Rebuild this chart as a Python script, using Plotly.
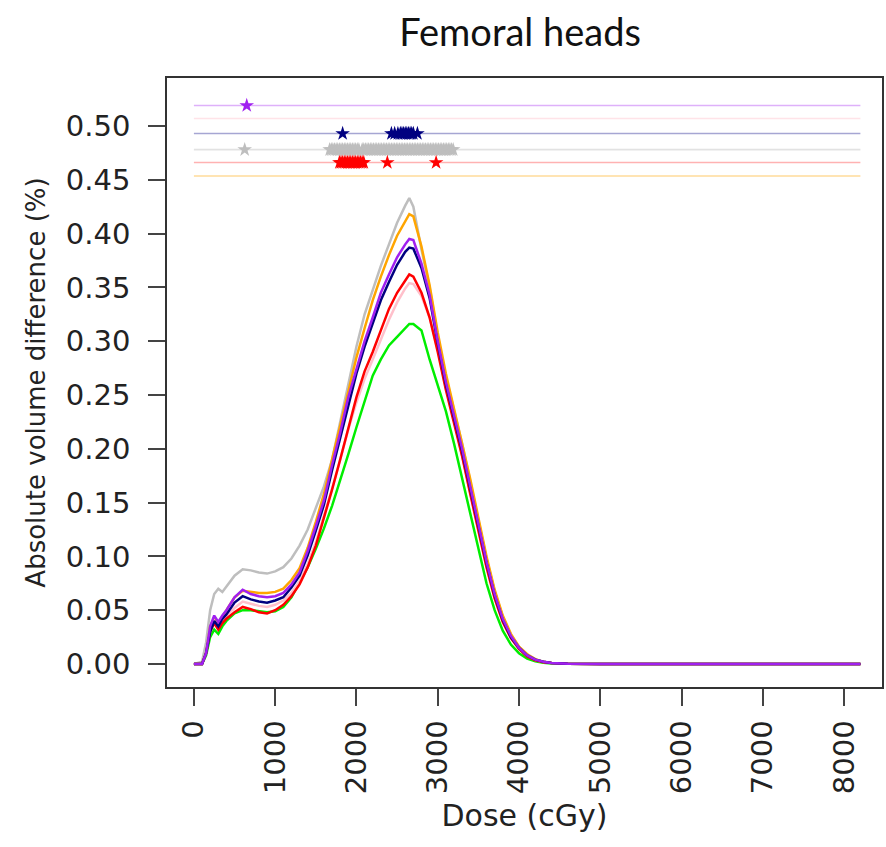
import plotly.graph_objects as go

dose = [0, 100, 150, 200, 250, 300, 350, 400, 500, 600, 700, 800, 900, 1000, 1100, 1200,
        1300, 1400, 1500, 1600, 1700, 1800, 1900, 2000, 2100, 2200, 2300, 2400, 2500,
        2600, 2650, 2700, 2800, 2900, 3000, 3100, 3200, 3300, 3400, 3500, 3600, 3700,
        3800, 3900, 4000, 4100, 4200, 4300, 4400, 4600, 5000, 8200]

gray = [0, 0.002, 0.02, 0.05, 0.065, 0.07, 0.067, 0.072, 0.082, 0.088, 0.087, 0.085, 0.084, 0.086, 0.09, 0.098,
        0.11, 0.125, 0.145, 0.165, 0.19, 0.225, 0.26, 0.295, 0.325, 0.348, 0.37, 0.39, 0.41,
        0.426, 0.433, 0.425, 0.385, 0.35, 0.305, 0.267, 0.236, 0.205, 0.17, 0.134, 0.098, 0.068,
        0.044, 0.027, 0.016, 0.009, 0.0045, 0.002, 0.001, 0.0003, 0, 0]

orange = [0, 0, 0.01, 0.035, 0.043, 0.037, 0.044, 0.05, 0.062, 0.068, 0.067, 0.066, 0.066, 0.067, 0.07, 0.078,
          0.089, 0.108, 0.132, 0.158, 0.19, 0.222, 0.256, 0.285, 0.312, 0.338, 0.36, 0.38, 0.398,
          0.412, 0.418, 0.416, 0.388, 0.352, 0.308, 0.27, 0.238, 0.207, 0.172, 0.136, 0.1, 0.069,
          0.045, 0.028, 0.016, 0.009, 0.0045, 0.002, 0.001, 0.0003, 0, 0]

green = [0, 0, 0.008, 0.025, 0.032, 0.028, 0.035, 0.04, 0.047, 0.05, 0.05, 0.049, 0.048, 0.049, 0.053, 0.062,
         0.076, 0.09, 0.107, 0.126, 0.147, 0.17, 0.195, 0.22, 0.245, 0.268, 0.283, 0.296, 0.304,
         0.312, 0.316, 0.316, 0.31, 0.283, 0.258, 0.235, 0.205, 0.172, 0.138, 0.105, 0.075, 0.05,
         0.031, 0.018, 0.01, 0.005, 0.0025, 0.0012, 0.0005, 0.0001, 0, 0]

pink = [0, 0, 0.01, 0.032, 0.04, 0.035, 0.04, 0.045, 0.052, 0.058, 0.056, 0.054, 0.053, 0.055, 0.059, 0.066,
        0.077, 0.093, 0.113, 0.137, 0.163, 0.19, 0.218, 0.243, 0.265, 0.283, 0.302, 0.32, 0.336,
        0.349, 0.354, 0.353, 0.342, 0.322, 0.292, 0.257, 0.227, 0.195, 0.16, 0.126, 0.092, 0.062,
        0.04, 0.025, 0.014, 0.0075, 0.0037, 0.0018, 0.0008, 0.0002, 0, 0]

red = [0, 0, 0.01, 0.03, 0.038, 0.032, 0.038, 0.042, 0.048, 0.053, 0.051, 0.048, 0.047, 0.05, 0.055, 0.063,
       0.074, 0.09, 0.11, 0.135, 0.162, 0.19, 0.22, 0.248, 0.272, 0.29, 0.31, 0.33, 0.345,
       0.357, 0.362, 0.36, 0.345, 0.322, 0.29, 0.255, 0.225, 0.193, 0.158, 0.124, 0.09, 0.061,
       0.039, 0.024, 0.014, 0.007, 0.0035, 0.0017, 0.0008, 0.0002, 0, 0]

navy = [0, 0, 0.01, 0.03, 0.04, 0.035, 0.042, 0.046, 0.057, 0.063, 0.06, 0.058, 0.057, 0.059, 0.062, 0.071,
        0.082, 0.101, 0.124, 0.148, 0.18, 0.21, 0.242, 0.27, 0.295, 0.317, 0.338, 0.355, 0.371,
        0.383, 0.387, 0.386, 0.368, 0.34, 0.298, 0.26, 0.23, 0.198, 0.163, 0.128, 0.094, 0.064,
        0.041, 0.025, 0.015, 0.008, 0.004, 0.002, 0.001, 0.0003, 0, 0]

purple = [0, 0, 0.01, 0.035, 0.045, 0.039, 0.045, 0.05, 0.062, 0.069, 0.065, 0.063, 0.062, 0.063, 0.066, 0.074,
          0.085, 0.105, 0.128, 0.152, 0.185, 0.215, 0.248, 0.275, 0.3, 0.322, 0.345, 0.362, 0.378,
          0.39, 0.395, 0.394, 0.372, 0.343, 0.3, 0.262, 0.232, 0.2, 0.165, 0.13, 0.095, 0.065,
          0.042, 0.026, 0.015, 0.008, 0.004, 0.002, 0.001, 0.0003, 0, 0]

# significance reference lines (level on the y axis) and star doses
line_start, line_end = 0, 8200
purple_level, pink_level, navy_level = 0.519, 0.507, 0.493
gray_level, red_level, orange_level = 0.478, 0.466, 0.4535

purple_sig = [650]
pink_sig = []
navy_sig = [1830, 2430, 2470, 2510, 2540, 2560, 2580, 2600, 2620, 2640, 2660, 2680, 2700, 2750]
gray_sig = [625, 1670, 1690, 1710, 1730, 1750, 1770, 1790, 1810, 1830, 1850, 1870, 1890, 1910, 1930,
            1950, 1970, 1990, 2010, 2030, 2070, 2090, 2110, 2130, 2150, 2170, 2190, 2210, 2230,
            2250, 2270, 2290, 2310, 2330, 2350, 2370, 2390, 2410, 2430, 2450, 2470, 2490, 2510,
            2530, 2550, 2570, 2590, 2610, 2630, 2650, 2670, 2690, 2710, 2730, 2750, 2770, 2790,
            2810, 2830, 2850, 2870, 2890, 2910, 2930, 2950, 2970, 2990, 3010, 3030, 3050, 3070,
            3090, 3110, 3130, 3150, 3170, 3190]
red_sig = [1790, 1810, 1830, 1850, 1870, 1890, 1910, 1930, 1950, 1970, 1990, 2010, 2030, 2050,
           2070, 2090, 2380, 2980]
orange_sig = []

x_ticks = [0, 1000, 2000, 3000, 4000, 5000, 6000, 7000, 8000]
y_ticks = [0.00, 0.05, 0.10, 0.15, 0.20, 0.25, 0.30, 0.35, 0.40, 0.45, 0.50]

fig = go.Figure()

refs = [
    (purple_level, "rgba(160,32,240,0.35)", purple_sig, "#A020F0"),
    (pink_level, "rgba(255,192,203,0.45)", pink_sig, "#FFC0CB"),
    (navy_level, "rgba(0,0,128,0.35)", navy_sig, "#000080"),
    (gray_level, "rgba(190,190,190,0.45)", gray_sig, "#BEBEBE"),
    (red_level, "rgba(255,0,0,0.3)", red_sig, "#FF0000"),
    (orange_level, "rgba(255,165,0,0.4)", orange_sig, "#FFA500"),
]
for lvl, lc, sig, mc in refs:
    fig.add_trace(go.Scatter(x=[line_start, line_end], y=[lvl, lvl], mode="lines",
                             line=dict(color=lc, width=1.6), hoverinfo="skip", showlegend=False))
    if sig:
        fig.add_trace(go.Scatter(x=sig, y=[lvl] * len(sig), mode="markers",
                                 marker=dict(symbol="star", size=11, color=mc,
                                             line=dict(width=0)),
                                 showlegend=False))

curves = [
    (gray, "#BEBEBE"),
    (orange, "#FFA500"),
    (green, "#00EE00"),
    (pink, "#FFC0CB"),
    (red, "#FF0000"),
    (navy, "#000080"),
    (purple, "#A020F0"),
]
for ys, c in curves:
    fig.add_trace(go.Scatter(x=dose, y=ys, mode="lines", line=dict(color=c, width=2.5),
                             showlegend=False))

tick_font = dict(family="DejaVu Sans, sans-serif", size=29, color="#222")
ytitle_font = dict(family="DejaVu Sans, sans-serif", size=26, color="#222")
xtitle_font = dict(family="DejaVu Sans, sans-serif", size=30, color="#222")

fig.update_layout(
    width=886, height=847,
    margin=dict(l=167, r=2, t=78, b=160),
    paper_bgcolor="white", plot_bgcolor="white",
    title=dict(text="Femoral heads", x=0.587, xanchor="center", y=0.961, yanchor="middle",
               font=dict(family="Lato, Open Sans, sans-serif", size=38, color="#111")),
    xaxis=dict(range=[-331, 8466], tickvals=x_ticks, ticktext=[str(v) for v in x_ticks],
               tickangle=-90, ticks="outside", ticklen=17, tickwidth=1.5, tickcolor="#444",
               ticklabelstandoff=3,
               showline=True, linecolor="#333", linewidth=1.5, mirror=True,
               showgrid=False, zeroline=False, tickfont=tick_font,
               title=dict(text="Dose (cGy)", font=xtitle_font, standoff=12)),
    yaxis=dict(range=[-0.0214, 0.5446], tickvals=y_ticks, tickformat=".2f",
               ticks="outside", ticklen=17, tickwidth=1.5, tickcolor="#444",
               ticklabelstandoff=12,
               showline=True, linecolor="#333", linewidth=1.5, mirror=True,
               showgrid=False, zeroline=False, tickfont=tick_font,
               title=dict(text="Absolute volume difference (%)", font=ytitle_font, standoff=13)),
)

fig.write_html("out.html", config={"displayModeBar": False},
               post_script="document.body.style.margin='0';document.body.style.overflow='hidden';")
